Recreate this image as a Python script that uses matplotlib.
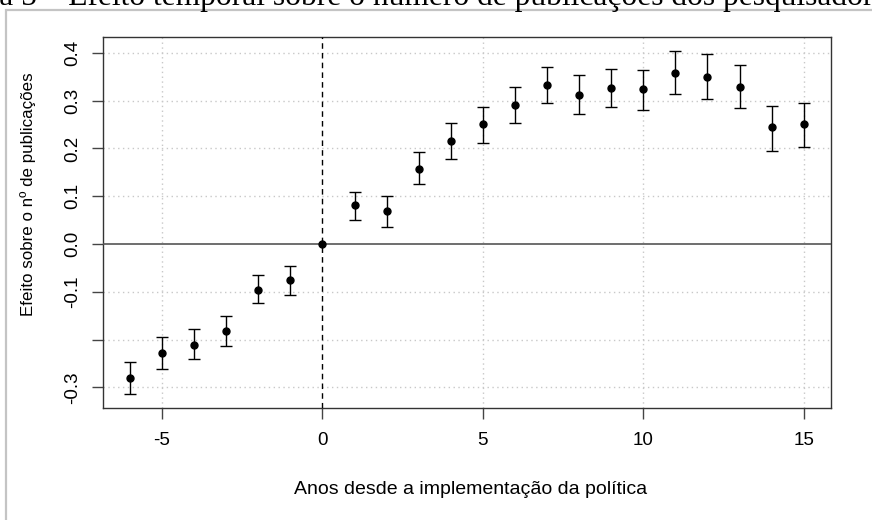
import numpy as np
import matplotlib
matplotlib.use("Agg")
import matplotlib.pyplot as plt
from matplotlib.patches import Rectangle

# event-study coefficients with confidence bounds
anos = [-6, -5, -4, -3, -2, -1, 0, 1, 2, 3, 4, 5, 6, 7, 8, 9, 10, 11, 12, 13, 14, 15]
coef = [-0.280, -0.229, -0.211, -0.182, -0.096, -0.075, 0.000, 0.081, 0.068, 0.157, 0.216,
        0.250, 0.291, 0.332, 0.311, 0.326, 0.324, 0.357, 0.349, 0.328, 0.244, 0.250]
inf = [-0.313, -0.262, -0.241, -0.213, -0.123, -0.106, 0.000, 0.050, 0.036, 0.125, 0.178,
       0.211, 0.253, 0.294, 0.272, 0.286, 0.280, 0.314, 0.304, 0.284, 0.195, 0.203]
sup = [-0.246, -0.195, -0.177, -0.151, -0.064, -0.047, 0.000, 0.109, 0.100, 0.193, 0.253,
       0.286, 0.328, 0.371, 0.353, 0.367, 0.365, 0.404, 0.397, 0.375, 0.289, 0.296]

yticks = [-0.3, -0.2, -0.1, 0.0, 0.1, 0.2, 0.3, 0.4]
ytick_labels = ["-0.3", "", "-0.1", "0.0", "0.1", "0.2", "0.3", "0.4"]
xticks = [-5, 0, 5, 10, 15]

titulo = "Figura 5 – Efeito temporal sobre o número de publicações dos pesquisadores"

plt.rcParams["font.family"] = ["Liberation Sans", "DejaVu Sans"]

fig = plt.figure(figsize=(8.72, 5.2), dpi=100)
ax = fig.add_axes([103 / 872, 1 - 408 / 520, (830.7 - 103) / 872, (408 - 37.3) / 520])

# frame around the figure panel
fig.patches.append(Rectangle((6 / 872, -0.2), 1.2, 1 - 10 / 520 + 0.2, transform=fig.transFigure,
                             fill=False, edgecolor="#c4c4c4", lw=1.6, zorder=0))

x = np.array(anos)
y = np.array(coef)
lo = np.array(inf)
hi = np.array(sup)
m = x != 0

ax.errorbar(x[m], y[m], yerr=[y[m] - lo[m], hi[m] - y[m]], fmt="none",
            ecolor="black", elinewidth=1.0, capsize=4.5, capthick=1.0, zorder=4)
ax.plot(x, y, "o", color="black", markersize=5, zorder=5)

ax.axhline(0, color="#555555", lw=1.2, zorder=3)
ax.axvline(0, color="black", lw=1.0, linestyle=(0, (4, 3)), zorder=3)

for v in xticks:
    if v != 0:
        ax.axvline(v, color="#c8c8c8", lw=1.0, linestyle=(0, (1, 2.5)), zorder=1)
for v in yticks:
    if v != 0:
        ax.axhline(v, color="#c8c8c8", lw=1.0, linestyle=(0, (1, 2.5)), zorder=1)

ax.set_xlim(-6.84, 15.84)
ax.set_ylim(-0.3431, 0.4324)
ax.set_xticks(xticks)
ax.set_xticklabels([str(v) for v in xticks])
ax.set_yticks(yticks)
ax.set_yticklabels(ytick_labels, rotation=90, va="center")

for s in ax.spines.values():
    s.set_color("#333333")
    s.set_linewidth(1.0)
ax.tick_params(direction="out", length=8, width=1.0, color="#444444", labelsize=13.5, pad=9)
ax.tick_params(axis="y", pad=8)

ax.set_xlabel("Anos desde a implementação da política", fontsize=14)
ax.set_ylabel("Efeito sobre o nº de publicações", fontsize=12.2)
ax.xaxis.set_label_coords(0.505, (408 - 481) / 370.7)
ax.yaxis.set_label_coords((36 - 103) / 727.7, (408 - 194) / 370.7)

# caption line, partly cut off at the top edge
fig.canvas.draw()
r = fig.canvas.get_renderer()
pre = fig.text(0, 0, "Figura 5 – ", family="Liberation Serif", fontsize=22.7)
w = pre.get_window_extent(r).width
pre.remove()
fig.text((68 - w) / 872, 1 - 5 / 520, titulo, family="Liberation Serif", fontsize=22.7,
         ha="left", va="baseline", color="black")

fig.savefig("out.png", dpi=100)
